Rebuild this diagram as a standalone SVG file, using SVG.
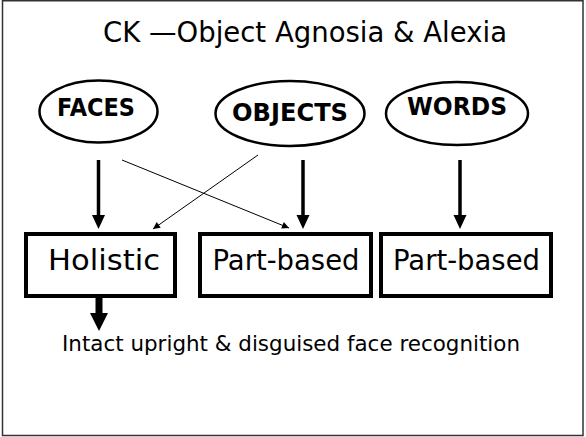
<svg xmlns="http://www.w3.org/2000/svg" width="586" height="437" viewBox="0 0 586 437">
  <style>
    .lbl { font-family: "Comic Sans MS", "DejaVu Sans", sans-serif; fill: #000; }
    .title { font-size: 28px; }
    .oval { fill: #fff; stroke: #000; stroke-width: 2.5; }
    .ovaltxt { font-size: 24px; font-weight: bold; }
    .box { fill: #fff; stroke: #000; stroke-width: 4; }
    .boxtxt { font-size: 29px; }
    .note { font-size: 22px; }
    .thick { stroke: #000; stroke-width: 3.5; fill: none; }
    .thin { stroke: #000; stroke-width: 1; fill: none; }
  </style>
  <defs>
    <marker id="headThin" viewBox="0 0 10 10" refX="10" refY="5" markerWidth="9" markerHeight="7" markerUnits="userSpaceOnUse" orient="auto">
      <path d="M0,0 L10,5 L0,10 Z" fill="#000"/>
    </marker>
  </defs>

  <!-- slide frame -->
  <rect x="2.5" y="0.75" width="580.5" height="434.75" fill="#fff" stroke="#333" stroke-width="1.5"/>

  <text class="lbl title" x="305" y="42" text-anchor="middle" textLength="404" lengthAdjust="spacingAndGlyphs">CK —Object Agnosia &amp; Alexia</text>

  <g id="faces">
    <ellipse class="oval" cx="98.5" cy="111.5" rx="59" ry="31"/>
    <text class="lbl ovaltxt" x="96" y="116" text-anchor="middle" textLength="78" lengthAdjust="spacingAndGlyphs">FACES</text>
  </g>
  <g id="objects">
    <ellipse class="oval" cx="290" cy="113.5" rx="74.5" ry="32.5"/>
    <text class="lbl ovaltxt" x="290" y="121" text-anchor="middle" textLength="116" lengthAdjust="spacingAndGlyphs">OBJECTS</text>
  </g>
  <g id="words">
    <ellipse class="oval" cx="457" cy="113.5" rx="71" ry="31.5"/>
    <text class="lbl ovaltxt" x="457" y="115" text-anchor="middle" textLength="100" lengthAdjust="spacingAndGlyphs">WORDS</text>
  </g>

  <g id="holistic">
    <rect class="box" x="26" y="234" width="149" height="62"/>
    <text class="lbl boxtxt" x="104" y="270" text-anchor="middle" textLength="112" lengthAdjust="spacingAndGlyphs">Holistic</text>
  </g>
  <g id="part-based-objects">
    <rect class="box" x="200" y="234" width="171" height="62"/>
    <text class="lbl boxtxt" x="286" y="270" text-anchor="middle" textLength="147" lengthAdjust="spacingAndGlyphs">Part-based</text>
  </g>
  <g id="part-based-words">
    <rect class="box" x="381" y="234" width="170" height="62"/>
    <text class="lbl boxtxt" x="466.5" y="270" text-anchor="middle" textLength="147" lengthAdjust="spacingAndGlyphs">Part-based</text>
  </g>

  <g id="outcome">
    <text class="lbl note" x="291" y="351" text-anchor="middle" textLength="458" lengthAdjust="spacingAndGlyphs">Intact upright &amp; disguised face recognition</text>
  </g>

  <g id="connectors">
    <!-- heavy vertical arrows -->
    <line class="thick" x1="98.5" y1="160" x2="98.5" y2="216"/>
    <path d="M92,215 L105,215 L98.5,229 Z" fill="#000"/>
    <line class="thick" x1="303" y1="160" x2="303" y2="216"/>
    <path d="M296.5,215 L309.5,215 L303,229 Z" fill="#000"/>
    <line class="thick" x1="460" y1="160" x2="460" y2="216"/>
    <path d="M453.5,215 L466.5,215 L460,229 Z" fill="#000"/>
    <!-- crossing thin arrows -->
    <line class="thin" x1="122" y1="160" x2="289" y2="228" marker-end="url(#headThin)"/>
    <line class="thin" x1="258" y1="155" x2="153" y2="229" marker-end="url(#headThin)"/>
    <!-- Holistic to outcome -->
    <line stroke="#000" stroke-width="7" x1="99" y1="297" x2="99" y2="314"/>
    <path d="M90,313 L108,313 L99,331 Z" fill="#000"/>
  </g>
</svg>
